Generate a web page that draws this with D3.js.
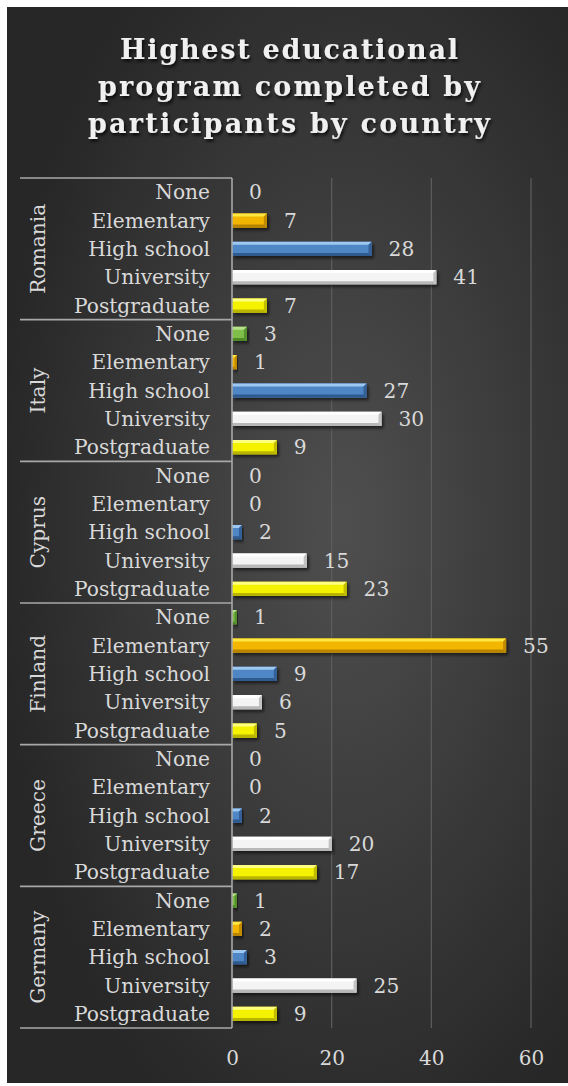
<!DOCTYPE html>
<html>
<head>
<meta charset="utf-8">
<script src="https://cdn.jsdelivr.net/npm/d3@7"></script>
<style>
  html, body { margin: 0; padding: 0; background: #ffffff; }
  svg { display: block; }
  text { font-family: "DejaVu Serif", "Liberation Serif", serif; }
</style>
</head>
<body>
<svg id="chart" width="568" height="1086"></svg>
<script>
// Countries (outer category level) and programs (inner level)
const countries = ["Romania", "Italy", "Cyprus", "Finland", "Greece", "Germany"];
const programs = ["None", "Elementary", "High school", "University", "Postgraduate"];

// Participants per program, one array per country (same order as programs)
const romania = [0, 7, 28, 41, 7];
const italy   = [3, 1, 27, 30, 9];
const cyprus  = [0, 0, 2, 15, 23];
const finland = [1, 55, 9, 6, 5];
const greece  = [0, 0, 2, 20, 17];
const germany = [1, 2, 3, 25, 9];

const xTicks = [0, 20, 40, 60];
const titleLines = ["Highest educational", "program completed by", "participants by country"];

const seriesByCountry = [romania, italy, cyprus, finland, greece, germany];
const rows = [];
countries.forEach((c, i) => programs.forEach((p, j) => rows.push({ country: c, program: p, value: seriesByCountry[i][j] })));

// Colour per program: [face, light bevel, dark bevel]
const palette = {
  "None":         ["#7fbf4a", "#b6e08a", "#4e8a28"],
  "Elementary":   ["#f2b600", "#ffe640", "#b88400"],
  "High school":  ["#4f86c6", "#9cc8f2", "#2f5a8e"],
  "University":   ["#f4f4f4", "#ffffff", "#b8b8b8"],
  "Postgraduate": ["#f5f200", "#ffff80", "#b8b400"]
};

const svg = d3.select("#chart");
const defs = svg.append("defs");

const bg = defs.append("radialGradient").attr("id", "bg")
  .attr("cx", "60%").attr("cy", "48%").attr("r", "62%");
bg.append("stop").attr("offset", "0%").attr("stop-color", "#4f4f4f");
bg.append("stop").attr("offset", "100%").attr("stop-color", "#272727");

const shadow = defs.append("filter").attr("id", "barShadow")
  .attr("x", "-10%").attr("y", "-50%").attr("width", "130%").attr("height", "220%");
shadow.append("feDropShadow").attr("dx", 2).attr("dy", 2.5).attr("stdDeviation", 1.6)
  .attr("flood-color", "#000").attr("flood-opacity", 0.55);

const tshadow = defs.append("filter").attr("id", "titleShadow")
  .attr("x", "-10%").attr("y", "-30%").attr("width", "120%").attr("height", "160%");
tshadow.append("feDropShadow").attr("dx", 1.5).attr("dy", 2.5).attr("stdDeviation", 1.8)
  .attr("flood-color", "#000").attr("flood-opacity", 0.75);

// Chart background
svg.append("rect").attr("x", 7).attr("y", 7).attr("width", 561).attr("height", 1076)
  .attr("fill", "url(#bg)");

// Title, each line stretched to its set width
const titleWidths = [338, 382, 402];
svg.append("g").attr("filter", "url(#titleShadow)")
  .selectAll("text").data(titleLines).join("text")
  .attr("x", 289).attr("y", (d, i) => 59 + i * 37)
  .attr("text-anchor", "middle")
  .attr("font-size", 27).attr("font-weight", "bold")
  .attr("textLength", (d, i) => titleWidths[i])
  .attr("lengthAdjust", "spacing")
  .attr("fill", "#f0f0f0")
  .text(d => d);

// Scales
const plotTop = 178, plotBottom = 1028;
const x = d3.scaleLinear().domain([0, 60]).range([232, 531]);
const yGroup = d3.scaleBand().domain(countries).range([plotTop, plotBottom]);
const yInner = d3.scaleBand().domain(programs).range([0, yGroup.bandwidth()])
  .paddingInner(0.5).paddingOuter(0.25);

// Gridlines
svg.append("g").selectAll("line").data(xTicks.slice(1)).join("line")
  .attr("x1", d => x(d)).attr("x2", d => x(d))
  .attr("y1", plotTop).attr("y2", plotBottom)
  .attr("stroke", "#5e5e5e").attr("stroke-width", 1.2);

// X axis tick labels
const xAxis = d3.axisBottom(x).tickValues(xTicks).tickSize(0).tickPadding(0);
const xg = svg.append("g").attr("transform", `translate(0, ${plotBottom + 17})`).call(xAxis);
xg.select(".domain").remove();
xg.selectAll("text").attr("font-size", 20).attr("fill", "#d9d9d9")
  .attr("font-family", "DejaVu Serif, serif").attr("dy", "1em");

// Multi-level category axis: group separators and labels
const catLine = "#a8a8a8";
svg.append("g").selectAll("line").data(countries.concat(["_end"])).join("line")
  .attr("x1", 20).attr("x2", x(0))
  .attr("y1", d => d === "_end" ? plotBottom : yGroup(d))
  .attr("y2", d => d === "_end" ? plotBottom : yGroup(d))
  .attr("stroke", catLine).attr("stroke-width", 1.6);

svg.append("g").selectAll("text").data(rows).join("text")
  .attr("x", 210)
  .attr("y", d => yGroup(d.country) + yInner(d.program) + yInner.bandwidth() / 2)
  .attr("dy", "0.35em")
  .attr("text-anchor", "end")
  .attr("font-size", 20.2).attr("fill", "#d9d9d9")
  .text(d => d.program);

svg.append("g").selectAll("text").data(countries).join("text")
  .attr("transform", d => `translate(45, ${yGroup(d) + yGroup.bandwidth() / 2}) rotate(-90)`)
  .attr("text-anchor", "middle")
  .attr("font-size", 20.2).attr("fill", "#d9d9d9")
  .text(d => d);

// Bars with bevelled faces
const bh = yInner.bandwidth();
const bev = 3;
const bars = svg.append("g").selectAll("g").data(rows.filter(d => d.value > 0)).join("g")
  .attr("filter", "url(#barShadow)")
  .attr("transform", d => `translate(${x(0)}, ${yGroup(d.country) + yInner(d.program)})`);

bars.append("rect")
  .attr("width", d => x(d.value) - x(0)).attr("height", bh)
  .attr("fill", d => palette[d.program][0]);
bars.append("polygon")
  .attr("points", d => {
    const w = x(d.value) - x(0), b = Math.min(bev, w / 2);
    return `0,0 ${w},0 ${w - b},${b} 0,${b}`;
  })
  .attr("fill", d => palette[d.program][1]);
bars.append("polygon")
  .attr("points", d => {
    const w = x(d.value) - x(0), b = Math.min(bev, w / 2);
    return `0,${bh} ${w},${bh} ${w - b},${bh - b} 0,${bh - b}`;
  })
  .attr("fill", d => palette[d.program][2]);
bars.append("polygon")
  .attr("points", d => {
    const w = x(d.value) - x(0), b = Math.min(bev, w / 2);
    return `${w},0 ${w},${bh} ${w - b},${bh - b} ${w - b},${b}`;
  })
  .attr("fill", d => palette[d.program][2]).attr("opacity", 0.85);

// Value axis line (drawn over bar starts)
svg.append("line").attr("x1", x(0)).attr("x2", x(0)).attr("y1", plotTop).attr("y2", plotBottom)
  .attr("stroke", catLine).attr("stroke-width", 1.6);

// Value labels
svg.append("g").selectAll("text").data(rows).join("text")
  .attr("x", d => x(d.value) + 17)
  .attr("y", d => yGroup(d.country) + yInner(d.program) + yInner.bandwidth() / 2)
  .attr("dy", "0.35em")
  .attr("font-size", 20.2).attr("fill", "#d9d9d9")
  .text(d => d.value);
</script>
</body>
</html>
